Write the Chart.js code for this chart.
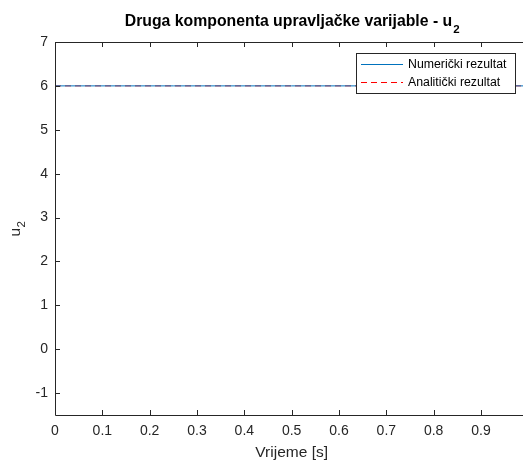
<!DOCTYPE html>
<html>
<head>
<meta charset="utf-8">
<script src="https://cdn.jsdelivr.net/npm/chart.js@4.4.0/dist/chart.umd.min.js"></script>
<style>
html,body{margin:0;padding:0;background:#fff;overflow:hidden;}
#wrap{width:523px;height:460px;position:relative;}
</style>
</head>
<body>
<div id="wrap"><canvas id="c" width="523" height="460"></canvas></div>
<script>
// ---- data ----
const timeValues = [0, 0.25, 0.5, 0.75, 1];
const numericalValues = [6, 6, 6, 6, 6];
const analyticalValues = [6, 6, 6, 6, 6];
const xTickValues = [0, 0.1, 0.2, 0.3, 0.4, 0.5, 0.6, 0.7, 0.8, 0.9];
const yTickValues = [-1, 0, 1, 2, 3, 4, 5, 6, 7];
const titleMain = 'Druga komponenta upravljačke varijable - u';
const titleSub = '2';
const xLabel = 'Vrijeme [s]';
const yLabelMain = 'u';
const yLabelSub = '2';
const seriesNames = ['Numerički rezultat', 'Analitički rezultat'];

const AX = '#262626';
const FONT = '"Liberation Sans", Arial, Helvetica, sans-serif';

const decor = {
  id: 'decor',
  afterDraw(chart) {
    const ctx = chart.ctx;
    const a = chart.chartArea;
    const xs = chart.scales.x, ys = chart.scales.y;
    ctx.save();
    ctx.strokeStyle = AX;
    ctx.lineWidth = 1;
    // axes lines (box)
    ctx.beginPath();
    ctx.moveTo(Math.round(a.left) + 0.5, a.top + 0.5);
    ctx.lineTo(a.right, a.top + 0.5);
    ctx.moveTo(Math.round(a.left) + 0.5, a.top);
    ctx.lineTo(Math.round(a.left) + 0.5, a.bottom + 0.5);
    ctx.lineTo(a.right, a.bottom + 0.5);
    ctx.stroke();
    // inward ticks
    const tl = 5;
    ctx.beginPath();
    xTickValues.forEach(v => {
      const px = Math.round(xs.getPixelForValue(v)) + 0.5;
      ctx.moveTo(px, a.bottom); ctx.lineTo(px, a.bottom - tl);
      ctx.moveTo(px, a.top); ctx.lineTo(px, a.top + tl);
    });
    yTickValues.forEach(v => {
      const py = Math.round(ys.getPixelForValue(v)) + 0.5;
      ctx.moveTo(a.left, py); ctx.lineTo(a.left + tl, py);
    });
    ctx.stroke();

    // title
    ctx.fillStyle = '#000';
    ctx.font = 'bold 15.8px ' + FONT;
    const wMain = ctx.measureText(titleMain).width;
    ctx.font = 'bold 11.5px ' + FONT;
    const wSub = ctx.measureText(titleSub).width;
    const cx = (a.left + xs.getPixelForValue(1)) / 2;
    let tx = cx - (wMain + wSub) / 2;
    ctx.textBaseline = 'alphabetic';
    ctx.textAlign = 'left';
    ctx.font = 'bold 15.8px ' + FONT;
    ctx.fillText(titleMain, tx, 26);
    ctx.font = 'bold 11.5px ' + FONT;
    ctx.fillText(titleSub, tx + wMain + 1, 32.5);

    // x label
    ctx.fillStyle = AX;
    ctx.font = '15.5px ' + FONT;
    ctx.textAlign = 'center';
    ctx.fillText(xLabel, cx, 457);

    // y label (rotated)
    ctx.save();
    ctx.translate(19.5, 229);
    ctx.rotate(-Math.PI / 2);
    ctx.font = '15.5px ' + FONT;
    const wu = ctx.measureText(yLabelMain).width;
    ctx.font = '11.5px ' + FONT;
    const w2 = ctx.measureText(yLabelSub).width;
    ctx.textAlign = 'left';
    ctx.font = '15.5px ' + FONT;
    ctx.fillText(yLabelMain, -(wu + w2) / 2, 0);
    ctx.font = '11.5px ' + FONT;
    ctx.fillText(yLabelSub, -(wu + w2) / 2 + wu + 0.5, 5.5);
    ctx.restore();

    // legend
    const lx = 356.5, ly = 53.5, lw = 159, lh = 40;
    ctx.fillStyle = '#fff';
    ctx.fillRect(lx, ly, lw, lh);
    ctx.strokeStyle = AX;
    ctx.lineWidth = 1;
    ctx.strokeRect(lx, ly, lw, lh);
    const rows = [64.5, 82.5];
    const dsets = chart.data.datasets;
    ctx.font = '12.3px ' + FONT;
    ctx.textAlign = 'left';
    ctx.textBaseline = 'middle';
    rows.forEach((ry, i) => {
      const ds = dsets[i];
      ctx.strokeStyle = ds.borderColor;
      ctx.lineWidth = ds.borderWidth;
      ctx.setLineDash(ds.borderDash || []);
      ctx.beginPath();
      ctx.moveTo(361, ry); ctx.lineTo(403, ry);
      ctx.stroke();
      ctx.setLineDash([]);
      ctx.fillStyle = '#000';
      ctx.fillText(seriesNames[i], 408, ry + 0.5);
    });
    ctx.restore();
  }
};

new Chart(document.getElementById('c'), {
  type: 'line',
  data: {
    datasets: [
      {
        label: seriesNames[0],
        data: timeValues.map((t, i) => ({x: t, y: numericalValues[i]})),
        borderColor: '#0072BD',
        borderWidth: 1,
        pointRadius: 0,
        tension: 0
      },
      {
        label: seriesNames[1],
        data: timeValues.map((t, i) => ({x: t, y: analyticalValues[i]})),
        borderColor: '#FF0000',
        borderWidth: 1,
        borderDash: [6, 4],
        pointRadius: 0,
        tension: 0
      }
    ]
  },
  options: {
    responsive: false,
    animation: false,
    devicePixelRatio: 1,
    layout: { padding: { top: 42, right: 0, left: 0, bottom: 0 } },
    plugins: {
      legend: { display: false },
      title: { display: false },
      tooltip: { enabled: false }
    },
    scales: {
      x: {
        type: 'linear',
        min: 0,
        max: 0.9887,
        afterBuildTicks(s) { s.ticks = xTickValues.map(v => ({value: v})); },
        afterFit(s) { s.height = 45; },
        grid: { display: false, drawTicks: false },
        border: { display: false },
        ticks: {
          color: AX,
          font: { family: FONT, size: 14 },
          padding: 8,
          maxRotation: 0,
          autoSkip: false,
          callback: v => String(v)
        }
      },
      y: {
        type: 'linear',
        min: -1.5,
        max: 7,
        afterBuildTicks(s) { s.ticks = yTickValues.map(v => ({value: v})); },
        afterFit(s) { s.width = 55; },
        grid: { display: false, drawTicks: false },
        border: { display: false },
        ticks: {
          color: AX,
          font: { family: FONT, size: 14 },
          padding: 7,
          autoSkip: false,
          callback: v => String(v)
        }
      }
    }
  },
  plugins: [decor]
});
</script>
</body>
</html>
